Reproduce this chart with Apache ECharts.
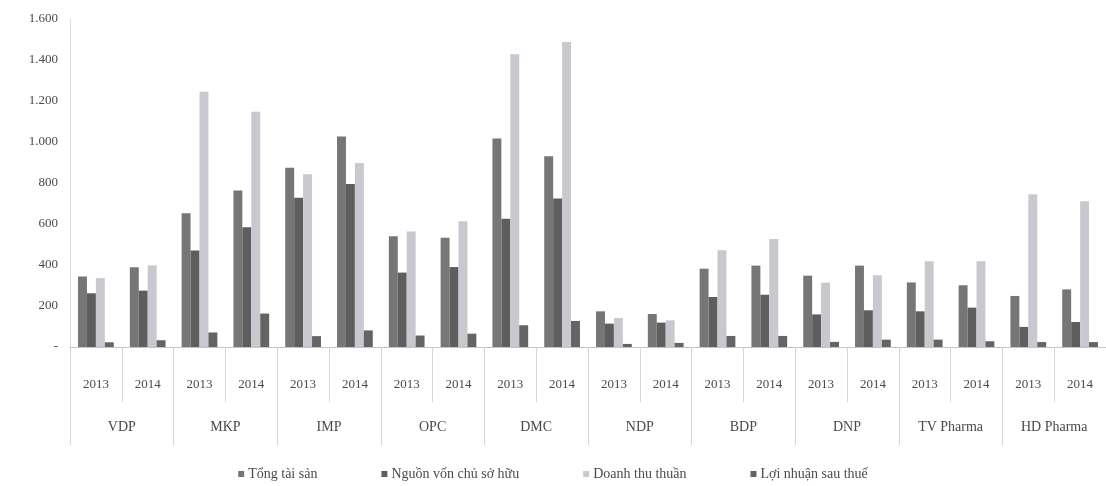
<!DOCTYPE html>
<html>
<head>
<meta charset="utf-8">
<script src="https://cdn.jsdelivr.net/npm/echarts@6/dist/echarts.min.js"></script>
<style>
html,body{margin:0;padding:0;background:#fff;}
#chart{width:1106px;height:486px;}
</style>
</head>
<body>
<div id="chart"></div>
<script>
// Data
const companies = ['VDP', 'MKP', 'IMP', 'OPC', 'DMC', 'NDP', 'BDP', 'DNP', 'TV Pharma', 'HD Pharma'];
const years = ['2013', '2014', '2013', '2014', '2013', '2014', '2013', '2014', '2013', '2014',
               '2013', '2014', '2013', '2014', '2013', '2014', '2013', '2014', '2013', '2014'];
const seriesNames = ['Tổng tài sản', 'Nguồn vốn chủ sở hữu', 'Doanh thu thuần', 'Lợi nhuận sau thuế'];
const tongTaiSan   = [344, 389, 653, 764, 875, 1027, 540, 533, 1017, 930, 174, 161, 382, 397, 348, 397, 315, 301, 249, 281];
const nguonVon     = [262, 275, 471, 584, 728, 795, 363, 390, 626, 724, 114, 119, 244, 255, 159, 179, 174, 192, 98, 122];
const doanhThu     = [336, 398, 1245, 1148, 843, 897, 563, 613, 1428, 1488, 141, 130, 472, 527, 314, 350, 418, 418, 745, 711];
const loiNhuan     = [23, 33, 71, 163, 53, 81, 56, 65, 106, 127, 15, 20, 54, 54, 25, 36, 36, 28, 24, 24];
const yTicks = [0, 200, 400, 600, 800, 1000, 1200, 1400, 1600];

const colors = ['#767676', '#5e5e5e', '#c8c8ce', '#646464'];
const textColor = '#4a4a4a';
const font = '"Liberation Serif", "DejaVu Serif", serif';

function fmt(v) {
  if (v === 0) return '-';
  return String(v).replace(/\B(?=(\d{3})+(?!\d))/g, '.');
}

const chart = echarts.init(document.getElementById('chart'), null, {renderer: 'canvas'});
const valueLists = [tongTaiSan, nguonVon, doanhThu, loiNhuan];

const option = {
  animation: false,
  backgroundColor: '#ffffff',
  textStyle: {fontFamily: font, color: textColor},
  grid: {left: 70, right: -6, top: 19, bottom: 139, containLabel: false},
  legend: {
    data: seriesNames,
    left: 'center',
    top: 462,
    itemWidth: 6,
    itemHeight: 6,
    itemGap: 64,
    icon: 'rect',
    textStyle: {fontFamily: font, fontSize: 14, color: textColor, padding: [0, 0, 0, -1]}
  },
  xAxis: [
    {
      type: 'category',
      data: years,
      position: 'bottom',
      axisLine: {show: true, lineStyle: {color: '#c4c4c4', width: 1}},
      axisTick: {show: true, interval: 0, length: 55, lineStyle: {color: '#d6d6d6'}},
      axisLabel: {interval: 0, margin: 31, fontSize: 13, color: textColor, fontFamily: font}
    },
    {
      type: 'category',
      data: companies,
      position: 'bottom',
      axisLine: {show: false},
      axisTick: {show: true, interval: 0, length: 98, lineStyle: {color: '#d6d6d6'}},
      axisLabel: {interval: 0, margin: 73, fontSize: 14, color: textColor, fontFamily: font}
    }
  ],
  yAxis: {
    type: 'value',
    min: 0,
    max: 1600,
    interval: 200,
    splitLine: {show: false},
    axisLine: {show: true, lineStyle: {color: '#dadada'}},
    axisTick: {show: false},
    axisLabel: {
      fontSize: 13, color: textColor, fontFamily: font, margin: 12,
      formatter: function (v) { return yTicks.indexOf(v) >= 0 ? fmt(v) : ''; }
    }
  },
  series: seriesNames.map(function (name, i) {
    return {
      name: name,
      type: 'bar',
      xAxisIndex: 0,
      data: valueLists[i],
      barGap: '0%',
      barCategoryGap: '31%',
      itemStyle: {color: colors[i]}
    };
  })
};
chart.setOption(option);
</script>
</body>
</html>
